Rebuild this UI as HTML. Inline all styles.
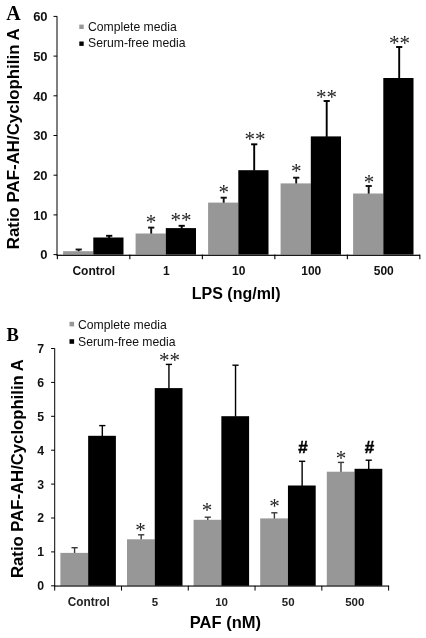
<!DOCTYPE html><html><head><meta charset="utf-8"><style>
html,body{margin:0;padding:0;background:#fff;}
svg{display:block;font-family:"Liberation Sans",sans-serif;filter:blur(0.45px);}
.b{font-weight:bold;}
.s{font-family:"Liberation Serif",serif;}
</style></head><body>
<svg width="426" height="638" viewBox="0 0 426 638">
<rect width="426" height="638" fill="#fff"/>
<rect x="77.75" y="249.50" width="1.90" height="2.20" fill="#111"/>
<rect x="75.60" y="248.55" width="6.20" height="1.90" fill="#111"/>
<rect x="108.25" y="235.80" width="1.90" height="2.20" fill="#000"/>
<rect x="106.10" y="234.85" width="6.20" height="1.90" fill="#000"/>
<rect x="63.10" y="251.20" width="30.20" height="3.40" fill="#979797"/>
<rect x="93.30" y="237.50" width="30.20" height="17.10" fill="#000"/>
<rect x="150.25" y="227.60" width="1.90" height="6.40" fill="#111"/>
<rect x="148.10" y="226.65" width="6.20" height="1.90" fill="#111"/>
<rect x="180.75" y="225.80" width="1.90" height="2.80" fill="#000"/>
<rect x="178.60" y="224.85" width="6.20" height="1.90" fill="#000"/>
<rect x="135.60" y="233.50" width="30.20" height="21.10" fill="#979797"/>
<rect x="165.80" y="228.10" width="30.20" height="26.50" fill="#000"/>
<rect x="222.75" y="197.70" width="1.90" height="5.40" fill="#111"/>
<rect x="220.60" y="196.75" width="6.20" height="1.90" fill="#111"/>
<rect x="253.25" y="144.30" width="1.90" height="26.40" fill="#000"/>
<rect x="251.10" y="143.35" width="6.20" height="1.90" fill="#000"/>
<rect x="208.10" y="202.60" width="30.20" height="52.00" fill="#979797"/>
<rect x="238.30" y="170.20" width="30.20" height="84.40" fill="#000"/>
<rect x="295.25" y="177.70" width="1.90" height="6.20" fill="#111"/>
<rect x="293.10" y="176.75" width="6.20" height="1.90" fill="#111"/>
<rect x="325.75" y="101.00" width="1.90" height="35.90" fill="#000"/>
<rect x="323.60" y="100.05" width="6.20" height="1.90" fill="#000"/>
<rect x="280.60" y="183.40" width="30.20" height="71.20" fill="#979797"/>
<rect x="310.80" y="136.40" width="30.20" height="118.20" fill="#000"/>
<rect x="367.75" y="186.00" width="1.90" height="8.00" fill="#111"/>
<rect x="365.60" y="185.05" width="6.20" height="1.90" fill="#111"/>
<rect x="398.25" y="47.00" width="1.90" height="31.50" fill="#000"/>
<rect x="396.10" y="46.05" width="6.20" height="1.90" fill="#000"/>
<rect x="353.10" y="193.50" width="30.20" height="61.10" fill="#979797"/>
<rect x="383.30" y="78.00" width="30.20" height="176.60" fill="#000"/>
<rect x="56.5" y="16.3" width="1" height="238.80" fill="#000"/>
<rect x="56.5" y="254.70" width="363.50" height="1.2" fill="#000"/>
<rect x="53.5" y="254.10" width="3.6" height="1" fill="#000"/>
<text class="b" x="47.6" y="259.30" font-size="13" text-anchor="end" fill="#111">0</text>
<rect x="53.5" y="214.40" width="3.6" height="1" fill="#000"/>
<text class="b" x="47.6" y="219.60" font-size="13" text-anchor="end" fill="#111">10</text>
<rect x="53.5" y="174.70" width="3.6" height="1" fill="#000"/>
<text class="b" x="47.6" y="179.90" font-size="13" text-anchor="end" fill="#111">20</text>
<rect x="53.5" y="135.00" width="3.6" height="1" fill="#000"/>
<text class="b" x="47.6" y="140.20" font-size="13" text-anchor="end" fill="#111">30</text>
<rect x="53.5" y="95.30" width="3.6" height="1" fill="#000"/>
<text class="b" x="47.6" y="100.50" font-size="13" text-anchor="end" fill="#111">40</text>
<rect x="53.5" y="55.60" width="3.6" height="1" fill="#000"/>
<text class="b" x="47.6" y="60.80" font-size="13" text-anchor="end" fill="#111">50</text>
<rect x="53.5" y="15.90" width="3.6" height="1" fill="#000"/>
<text class="b" x="47.6" y="21.10" font-size="13" text-anchor="end" fill="#111">60</text>
<rect x="56.80" y="254.60" width="1.1" height="4.6" fill="#000"/>
<rect x="129.30" y="254.60" width="1.1" height="4.6" fill="#000"/>
<rect x="201.80" y="254.60" width="1.1" height="4.6" fill="#000"/>
<rect x="274.30" y="254.60" width="1.1" height="4.6" fill="#000"/>
<rect x="346.80" y="254.60" width="1.1" height="4.6" fill="#000"/>
<rect x="419.30" y="254.60" width="1.1" height="4.6" fill="#000"/>
<text class="b" x="93.75" y="274.8" font-size="12" text-anchor="middle" fill="#111">Control</text>
<text class="b" x="166.25" y="274.8" font-size="12" text-anchor="middle" fill="#111">1</text>
<text class="b" x="238.75" y="274.8" font-size="12" text-anchor="middle" fill="#111">10</text>
<text class="b" x="311.25" y="274.8" font-size="12" text-anchor="middle" fill="#111">100</text>
<text class="b" x="383.75" y="274.8" font-size="12" text-anchor="middle" fill="#111">500</text>
<text class="b" x="236.2" y="299" font-size="16" text-anchor="middle" fill="#000">LPS (ng/ml)</text>
<text class="b" transform="translate(18.8,249.2) rotate(-90)" font-size="16.85" fill="#000">Ratio PAF-AH/Cyclophilin A</text>
<text class="s b" x="6.2" y="20.4" font-size="20" fill="#000">A</text>
<rect x="79.3" y="24.6" width="4.4" height="4.4" fill="#979797"/>
<rect x="79.3" y="41.5" width="4.4" height="4.4" fill="#000"/>
<text x="88" y="30.8" font-size="12.2" fill="#111">Complete media</text>
<text x="88" y="47.3" font-size="12.2" fill="#111">Serum-free media</text>
<text class="s" x="145.75" y="229.07" font-size="21" fill="#222">*</text>
<text class="s" x="170.50" y="226.77" font-size="21" fill="#222">**</text>
<text class="s" x="218.55" y="198.87" font-size="21" fill="#222">*</text>
<text class="s" x="244.50" y="146.27" font-size="21" fill="#222">**</text>
<text class="s" x="291.05" y="178.27" font-size="21" fill="#222">*</text>
<text class="s" x="316.00" y="103.87" font-size="21" fill="#222">**</text>
<text class="s" x="363.75" y="188.87" font-size="21" fill="#222">*</text>
<text class="s" x="389.00" y="49.87" font-size="21" fill="#222">**</text>
<rect x="73.88" y="547.70" width="1.40" height="5.70" fill="#3a3a3a"/>
<rect x="71.48" y="547.00" width="6.20" height="1.40" fill="#3a3a3a"/>
<rect x="101.62" y="425.60" width="1.40" height="10.70" fill="#000"/>
<rect x="99.23" y="424.90" width="6.20" height="1.40" fill="#000"/>
<rect x="60.40" y="552.90" width="27.75" height="32.90" fill="#979797"/>
<rect x="88.15" y="435.80" width="27.75" height="150.00" fill="#000"/>
<rect x="140.48" y="534.80" width="1.40" height="5.00" fill="#3a3a3a"/>
<rect x="138.08" y="534.10" width="6.20" height="1.40" fill="#3a3a3a"/>
<rect x="168.23" y="364.40" width="1.40" height="24.20" fill="#000"/>
<rect x="165.83" y="363.70" width="6.20" height="1.40" fill="#000"/>
<rect x="127.00" y="539.30" width="27.75" height="46.50" fill="#979797"/>
<rect x="154.75" y="388.10" width="27.75" height="197.70" fill="#000"/>
<rect x="207.08" y="517.20" width="1.40" height="3.10" fill="#3a3a3a"/>
<rect x="204.68" y="516.50" width="6.20" height="1.40" fill="#3a3a3a"/>
<rect x="234.83" y="365.20" width="1.40" height="51.50" fill="#000"/>
<rect x="232.43" y="364.50" width="6.20" height="1.40" fill="#000"/>
<rect x="193.60" y="519.80" width="27.75" height="66.00" fill="#979797"/>
<rect x="221.35" y="416.20" width="27.75" height="169.60" fill="#000"/>
<rect x="273.68" y="512.80" width="1.40" height="6.10" fill="#3a3a3a"/>
<rect x="271.27" y="512.10" width="6.20" height="1.40" fill="#3a3a3a"/>
<rect x="301.43" y="461.30" width="1.40" height="24.70" fill="#000"/>
<rect x="299.02" y="460.60" width="6.20" height="1.40" fill="#000"/>
<rect x="260.20" y="518.40" width="27.75" height="67.40" fill="#979797"/>
<rect x="287.95" y="485.50" width="27.75" height="100.30" fill="#000"/>
<rect x="340.27" y="462.40" width="1.40" height="9.80" fill="#3a3a3a"/>
<rect x="337.87" y="461.70" width="6.20" height="1.40" fill="#3a3a3a"/>
<rect x="368.02" y="460.20" width="1.40" height="9.10" fill="#000"/>
<rect x="365.62" y="459.50" width="6.20" height="1.40" fill="#000"/>
<rect x="326.80" y="471.70" width="27.75" height="114.10" fill="#979797"/>
<rect x="354.55" y="468.80" width="27.75" height="117.00" fill="#000"/>
<rect x="54.2" y="348.3" width="1" height="238.00" fill="#000"/>
<rect x="54.2" y="585.50" width="334.90" height="1.1" fill="#000"/>
<rect x="51.1" y="585.30" width="3.6" height="1" fill="#000"/>
<text class="b" x="44" y="590.20" font-size="12.3" text-anchor="end" fill="#111">0</text>
<rect x="51.1" y="551.40" width="3.6" height="1" fill="#000"/>
<text class="b" x="44" y="556.30" font-size="12.3" text-anchor="end" fill="#111">1</text>
<rect x="51.1" y="517.50" width="3.6" height="1" fill="#000"/>
<text class="b" x="44" y="522.40" font-size="12.3" text-anchor="end" fill="#111">2</text>
<rect x="51.1" y="483.60" width="3.6" height="1" fill="#000"/>
<text class="b" x="44" y="488.50" font-size="12.3" text-anchor="end" fill="#111">3</text>
<rect x="51.1" y="449.70" width="3.6" height="1" fill="#000"/>
<text class="b" x="44" y="454.60" font-size="12.3" text-anchor="end" fill="#111">4</text>
<rect x="51.1" y="415.80" width="3.6" height="1" fill="#000"/>
<text class="b" x="44" y="420.70" font-size="12.3" text-anchor="end" fill="#111">5</text>
<rect x="51.1" y="381.90" width="3.6" height="1" fill="#000"/>
<text class="b" x="44" y="386.80" font-size="12.3" text-anchor="end" fill="#111">6</text>
<rect x="51.1" y="348.00" width="3.6" height="1" fill="#000"/>
<text class="b" x="44" y="352.90" font-size="12.3" text-anchor="end" fill="#111">7</text>
<rect x="54.20" y="585.80" width="1" height="4.8" fill="#000"/>
<rect x="120.98" y="585.80" width="1" height="4.8" fill="#000"/>
<rect x="187.76" y="585.80" width="1" height="4.8" fill="#000"/>
<rect x="254.54" y="585.80" width="1" height="4.8" fill="#000"/>
<rect x="321.32" y="585.80" width="1" height="4.8" fill="#000"/>
<rect x="388.10" y="585.80" width="1" height="4.8" fill="#000"/>
<text class="b" x="88.75" y="605.6" font-size="12" text-anchor="middle" fill="#222" textLength="42" lengthAdjust="spacingAndGlyphs">Control</text>
<text class="b" x="154.95" y="605.6" font-size="11.5" text-anchor="middle" fill="#222">5</text>
<text class="b" x="221.55" y="605.6" font-size="11.5" text-anchor="middle" fill="#222">10</text>
<text class="b" x="288.15" y="605.6" font-size="11.5" text-anchor="middle" fill="#222">50</text>
<text class="b" x="354.75" y="605.6" font-size="11.5" text-anchor="middle" fill="#222">500</text>
<text class="b" x="225.4" y="628.2" font-size="16.5" text-anchor="middle" fill="#000">PAF (nM)</text>
<text class="b" transform="translate(23,578) rotate(-90)" font-size="16.7" fill="#000">Ratio PAF-AH/Cyclophilin A</text>
<text class="s b" x="6.4" y="340.6" font-size="18.5" fill="#000">B</text>
<rect x="69.5" y="321.8" width="4.6" height="4.6" fill="#979797"/>
<rect x="69.5" y="339.2" width="4.6" height="4.6" fill="#000"/>
<text x="78" y="328.9" font-size="12.2" fill="#111">Complete media</text>
<text x="78" y="346.3" font-size="12.2" fill="#111">Serum-free media</text>
<text class="s" x="135.35" y="536.87" font-size="21" fill="#222">*</text>
<text class="s" x="159.10" y="367.47" font-size="21" fill="#222">**</text>
<text class="s" x="201.75" y="517.27" font-size="21" fill="#222">*</text>
<text class="s" x="269.15" y="513.27" font-size="21" fill="#222">*</text>
<text class="s" x="335.85" y="465.07" font-size="21" fill="#222">*</text>
<text class="b" x="303.10" y="453.02" font-size="17" text-anchor="middle" fill="#000" stroke="#000" stroke-width="0.45">#</text>
<text class="b" x="369.60" y="453.02" font-size="17" text-anchor="middle" fill="#000" stroke="#000" stroke-width="0.45">#</text>
</svg></body></html>
